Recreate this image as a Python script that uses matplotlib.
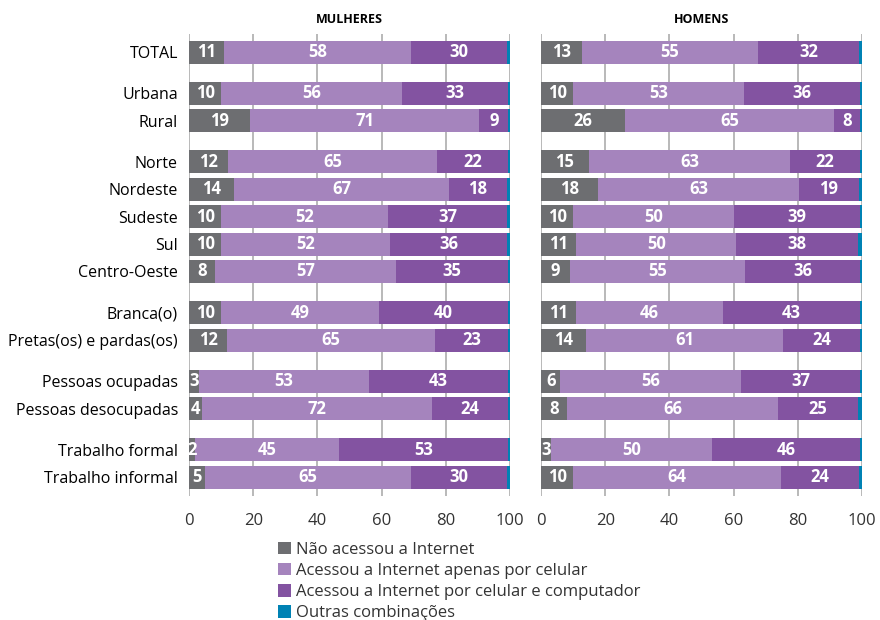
import numpy as np
import matplotlib
matplotlib.use("Agg")
import matplotlib.pyplot as plt
from matplotlib.patches import Patch

plt.rcParams["font.family"] = ["Open Sans", "DejaVu Sans"]

# Categories (top to bottom) and their group layout
categories = [
    "TOTAL", "Urbana", "Rural", "Norte", "Nordeste", "Sudeste", "Sul",
    "Centro-Oeste", "Branca(o)", "Pretas(os) e pardas(os)",
    "Pessoas ocupadas", "Pessoas desocupadas", "Trabalho formal", "Trabalho informal",
]
group_sizes = [1, 2, 5, 2, 2, 2]

series_names = [
    "Não acessou a Internet",
    "Acessou a Internet apenas por celular",
    "Acessou a Internet por celular e computador",
    "Outras combinações",
]

# Mulheres
mulheres_nao = [11, 10, 19, 12, 14, 10, 10, 8, 10, 12, 3, 4, 2, 5]
mulheres_cel = [58, 56, 71, 65, 67, 52, 52, 57, 49, 65, 53, 72, 45, 65]
mulheres_cel_comp = [30, 33, 9, 22, 18, 37, 36, 35, 40, 23, 43, 24, 53, 30]
mulheres_outras = [1.0, 0.7, 0.5, 0.5, 1.0, 1.0, 1.0, 0.7, 0.7, 0.5, 0.7, 0.5, 0.5, 1.0]

# Homens
homens_nao = [13, 10, 26, 15, 18, 10, 11, 9, 11, 14, 6, 8, 3, 10]
homens_cel = [55, 53, 65, 63, 63, 50, 50, 55, 46, 61, 56, 66, 50, 64]
homens_cel_comp = [32, 36, 8, 22, 19, 39, 38, 36, 43, 24, 37, 25, 46, 24]
homens_outras = [0.8, 0.6, 0.6, 0.6, 0.9, 0.6, 1.2, 0.6, 0.6, 0.6, 0.6, 1.2, 0.6, 0.9]

colors = ["#6d6e71", "#a584bd", "#8353a1", "#0082b4"]
text_color = "#333333"

# y positions with a gap between groups
positions = []
y = 0.0
for g, n in enumerate(group_sizes):
    for i in range(n):
        positions.append(y)
        y += 1.0
    y += 0.5
positions = np.array(positions)


def draw_panel(ax, nao, cel, cel_comp, outras, title, show_labels):
    main = np.array([nao, cel, cel_comp], dtype=float)
    outras = np.array(outras, dtype=float)
    # scale the three rounded shares so each bar closes at 100
    main = main / main.sum(axis=0) * (100 - outras)
    segs = [main[0], main[1], main[2], outras]
    labels = [nao, cel, cel_comp]

    ax.set_axisbelow(True)
    for xv in range(0, 101, 20):
        ax.axvline(xv, color="#a6a6a6", linewidth=1.1, zorder=0)

    left = np.zeros(len(positions))
    for k, seg in enumerate(segs):
        ax.barh(positions, seg, left=left, height=0.84, color=colors[k],
                edgecolor="none", zorder=2)
        if k < 3:
            for p, l, w, lab in zip(positions, left, seg, labels[k]):
                ax.text(l + w / 2, p, str(lab), ha="center", va="center",
                        color="white", fontsize=12, fontweight="bold", zorder=3)
        left = left + seg

    ax.set_xlim(0, 100)
    ax.set_ylim(positions[-1] + 0.69, -0.66)
    ax.set_xticks(range(0, 101, 20))
    ax.set_xticklabels([str(v) for v in range(0, 101, 20)], fontsize=12,
                       color=text_color)
    ax.tick_params(axis="x", length=0, pad=12)
    if show_labels:
        ax.set_yticks(positions)
        ax.set_yticklabels(categories, fontsize=11.5, color="black")
        ax.tick_params(axis="y", length=0, pad=8)
    else:
        ax.set_yticks([])
    for s in ax.spines.values():
        s.set_visible(False)
    ax.text(0.5, 1.018, title, transform=ax.transAxes, ha="center",
            va="bottom", fontsize=9, fontweight="bold", color="black")


fig = plt.figure(figsize=(8.8, 6.2), dpi=100)
ax1 = fig.add_axes([0.2148, 0.2, 0.3648, 0.745])
ax2 = fig.add_axes([0.6148, 0.2, 0.3648, 0.745])

draw_panel(ax1, mulheres_nao, mulheres_cel, mulheres_cel_comp, mulheres_outras,
           "MULHERES", True)
draw_panel(ax2, homens_nao, homens_cel, homens_cel_comp, homens_outras,
           "HOMENS", False)

handles = [Patch(facecolor=c, edgecolor="none") for c in colors]
fig.legend(handles, series_names, loc="upper left",
           bbox_to_anchor=(0.306, 0.14), frameon=False, fontsize=12,
           handlelength=0.8, handleheight=0.8, handletextpad=0.3,
           labelspacing=0.3, borderpad=0, labelcolor=text_color)

fig.savefig("out.png", dpi=100)
